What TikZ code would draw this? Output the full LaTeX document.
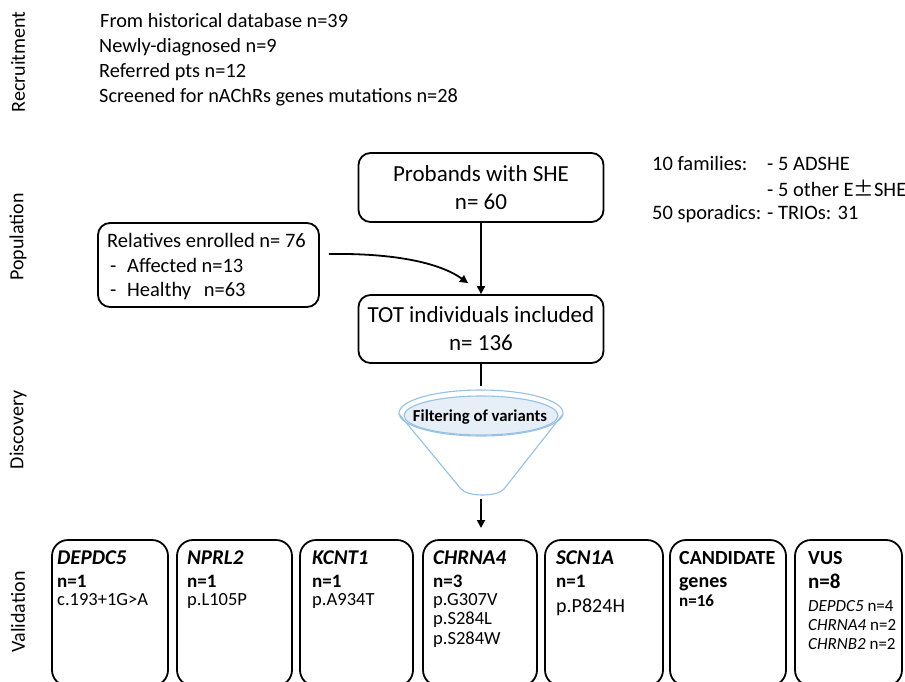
\documentclass[tikz,border=0pt]{standalone}
\usepackage{fontspec}
\setmainfont{Carlito}
\newfontfamily\cjkpm{Noto Sans CJK SC}
\usetikzlibrary{arrows.meta}
\definecolor{fstroke}{RGB}{150,192,228}
\definecolor{ffill}{RGB}{230,238,248}
\newcommand\setfs[2]{\fontsize{#1}{#2}\selectfont}
\begin{document}
\begin{tikzpicture}[x=1pt,y=-1pt,
  txt/.style={inner sep=0pt, anchor=base west},
  lbl/.style={rotate=90, font=\setfs{20}{24}, inner sep=0pt},
  popbox/.style={draw, line width=1.8pt, rounded corners=12pt},
  vbox/.style={draw, line width=1.8pt, rounded corners=16pt, minimum height=146pt},
  arr/.style={line width=1.8pt, -{Triangle[length=8pt,width=8pt]}},
  ln/.style={line width=1.8pt},
  hd/.style={txt, font=\setfs{21}{24}\bfseries\itshape},
  nn/.style={txt, font=\setfs{19}{23}\bfseries},
  mu/.style={txt, font=\setfs{18.5}{22}}
]
\clip (0,0) rectangle (905,682);
\fill[white] (0,0) rectangle (905,682);

% stage labels
\node[lbl] (lrec) at (18,62) {Recruitment};
\node[lbl] (lpop) at (18,237) {Population};
\node[lbl] (ldis) at (18,430) {Discovery};
\node[lbl] (lval) at (18,612) {Validation};

% recruitment
\begin{scope}[every node/.style={txt, font=\setfs{20.3}{24}}]
\node (r1) at (100,28) {From historical database n=39};
\node (r2) at (99,53) {Newly-diagnosed n=9};
\node (r3) at (99,78) {Referred pts n=12};
\node (r4) at (99,103) {Screened for nAChRs genes mutations n=28};
\end{scope}

% population
\node[popbox, minimum width=245pt, minimum height=69pt, align=center, font=\setfs{23}{28}] (prob) at (481,187.5) {Probands with SHE\\n= 60};
\node[popbox, minimum width=245pt, minimum height=68pt, align=center, font=\setfs{23}{28}] (tot) at (481,329) {TOT individuals included\\n= 136};
\node[popbox, minimum width=221pt, minimum height=84pt] (rel) at (208.5,265) {};
\begin{scope}[every node/.style={txt, font=\setfs{20.5}{24}}]
\node (rl1) at (107,247) {Relatives enrolled n= 76};
\node (rl2) at (110,272) {\makebox[17pt][l]{-}Affected n=13};
\node (rl3) at (110,296) {\makebox[17pt][l]{-}Healthy\hspace{8pt} n=63};
\end{scope}
\begin{scope}[every node/.style={txt, font=\setfs{20.5}{24}}]
\node (f1) at (652,171) {10 families:};
\node (f2) at (767,171) {- 5 ADSHE};
\node (f3) at (767,196) {- 5 other E{\cjkpm ±}SHE};
\node (f4) at (652,219) {50 sporadics:};
\node (f5) at (767,219) {- TRIOs: 31};
\end{scope}

\draw[arr] (prob.south) -- (tot.north);
\draw[arr] ([xshift=9pt,yshift=11pt]rel.east) .. controls (395,253) and (440,263) .. ([xshift=-13pt,yshift=11pt]tot.north);

% funnel
\coordinate (ftop) at (481,386);
\coordinate (fbot) at (481,499);
\coordinate (aend) at (481,528);
\draw[ln] (tot.south) -- (ftop);
\draw[fstroke, line width=1.1pt] (399,414) -- (461,489) .. controls (468,497) and (497,497) .. (504,489) -- (563,414);
\draw[fstroke, line width=1.1pt] (481,413) ellipse [x radius=82, y radius=23];
\draw[fstroke, line width=1.1pt, fill=ffill] (481,415.5) ellipse [x radius=77, y radius=19.5];
\node[font=\setfs{16.7}{20}\bfseries, inner sep=0pt] (filt) at (480,417) {Filtering of variants};
\draw[arr] (fbot) -- (aend);

% validation boxes
\node[vbox, minimum width=116pt] (b1) at (110,613) {};
\node[vbox, minimum width=115pt] (b2) at (234.5,613) {};
\node[vbox, minimum width=113pt] (b3) at (356.5,613) {};
\node[vbox, minimum width=114pt] (b4) at (480,613) {};
\node[vbox, minimum width=118pt] (b5) at (604,613) {};
\node[vbox, minimum width=116pt] (b6) at (728,613) {};
\node[vbox, minimum width=107pt] (b7) at (848.5,613) {};

\node[hd] (t1a) at (57,564) {DEPDC5};
\node[nn] (t1b) at (57,587) {n=1};
\node[mu] (t1c) at (57,605) {c.193+1G>A};

\node[hd] (t2a) at (187,564) {NPRL2};
\node[nn] (t2b) at (187,587) {n=1};
\node[mu] (t2c) at (187,605) {p.L105P};

\node[hd] (t3a) at (312,564) {KCNT1};
\node[nn] (t3b) at (312,587) {n=1};
\node[mu] (t3c) at (312,605) {p.A934T};

\node[hd] (t4a) at (433,564) {CHRNA4};
\node[nn] (t4b) at (433,587) {n=3};
\node[mu] (t4c) at (433,605) {p.G307V};
\node[mu] (t4d) at (433,624) {p.S284L};
\node[mu] (t4e) at (433,644) {p.S284W};

\node[hd] (t5a) at (556,564) {SCN1A};
\node[nn] (t5b) at (556,587) {n=1};
\node[txt, font=\setfs{20}{24}] (t5c) at (556,612) {p.P824H};

\node[txt, font=\setfs{20}{24}\bfseries] (t6a) at (679,564) {CANDIDATE};
\node[txt, font=\setfs{20}{24}\bfseries] (t6b) at (679,587) {genes};
\node[txt, font=\setfs{17}{20}\bfseries] (t6c) at (679,606) {n=16};

\node[txt, font=\setfs{20}{24}\bfseries] (t7a) at (808,564) {VUS};
\node[txt, font=\setfs{21}{24}\bfseries] (t7b) at (808,588) {n=8};
\node[txt, font=\setfs{17}{20}] (t7c) at (808,611) {\textit{DEPDC5} n=4};
\node[txt, font=\setfs{17}{20}] (t7d) at (808,630) {\textit{CHRNA4} n=2};
\node[txt, font=\setfs{17}{20}] (t7e) at (808,649) {\textit{CHRNB2} n=2};
\end{tikzpicture}
\end{document}
